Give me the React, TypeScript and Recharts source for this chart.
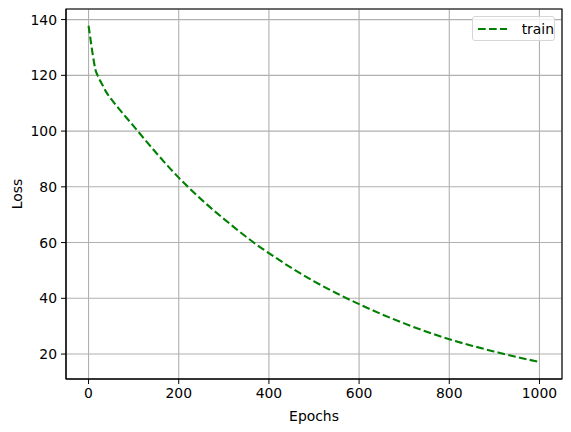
import {
  LineChart,
  Line,
  XAxis,
  YAxis,
  CartesianGrid,
  ReferenceArea,
} from 'recharts';

// Loss curve
const epochs = [
  0, 3, 6, 9, 12, 15, 20, 30, 40, 55, 70, 85, 100, 125, 150, 175, 200, 225, 250,
  275, 300, 325, 350, 375, 400, 450, 500, 550, 600, 650, 700, 750, 800, 850,
  900, 950, 1000,
];
const trainLoss = [
  137.8, 134.5, 131.0, 127.8, 124.8, 122.2, 120.0, 116.8, 113.8, 110.5, 107.5,
  104.6, 101.8, 96.9, 92.2, 87.6, 83.3, 79.3, 75.5, 71.9, 68.5, 65.2, 62.0,
  59.0, 56.2, 50.9, 46.1, 41.8, 37.9, 34.3, 31.0, 28.0, 25.3, 23.0, 20.9, 18.9,
  17.2,
];
const xTicks = [0, 200, 400, 600, 800, 1000];
const yTicks = [20, 40, 60, 80, 100, 120, 140];

const X_DOMAIN = [-50, 1050];
const Y_DOMAIN = [11.05, 143.8];

const FONT = 'DejaVu Sans, sans-serif';
const tickStyle = { fontSize: 13.9, fill: '#000', fontFamily: FONT };
const DASH = '7.7 3.3';

function TrainLegend() {
  return (
    <div
      style={{
        position: 'absolute',
        left: 472,
        top: 16,
        width: 83,
        height: 25,
        boxSizing: 'border-box',
        border: '1px solid #d6d6d6',
        borderRadius: 3,
        background: 'rgba(255,255,255,0.8)',
        display: 'flex',
        alignItems: 'center',
        fontFamily: FONT,
        fontSize: 13.9,
        color: '#000',
      }}
    >
      <svg width={44} height={10} style={{ marginLeft: 5 }}>
        <line
          x1={0}
          y1={5}
          x2={29}
          y2={5}
          stroke="#008000"
          strokeWidth={2.1}
          strokeDasharray={DASH}
        />
      </svg>
      <span>train</span>
    </div>
  );
}

export default function App() {
  const data = epochs.map((e, i) => ({ epoch: e, train: trainLoss[i] }));

  return (
    <div style={{ position: 'absolute', left: 0, top: 0, width: 571, height: 432, background: '#fff' }}>
      <LineChart
        width={571}
        height={432}
        data={data}
        margin={{ top: 9, right: 9, bottom: 0, left: 0 }}
      >
        <CartesianGrid stroke="#b0b0b0" strokeWidth={1.1} />
        <XAxis
          dataKey="epoch"
          type="number"
          domain={X_DOMAIN}
          ticks={xTicks}
          allowDataOverflow
          height={53}
          tickSize={5}
          tickMargin={4}
          tick={tickStyle}
          stroke="#000"
          label={{ value: 'Epochs', position: 'insideBottom', offset: 11, style: { ...tickStyle } }}
        />
        <YAxis
          type="number"
          domain={Y_DOMAIN}
          ticks={yTicks}
          allowDataOverflow
          width={66}
          tickSize={5}
          tickMargin={4}
          tick={tickStyle}
          stroke="#000"
          label={({ viewBox }: any) => (
            <text
              x={17}
              y={viewBox.y + viewBox.height / 2}
              transform={`rotate(-90, 17, ${viewBox.y + viewBox.height / 2})`}
              textAnchor="middle"
              dominantBaseline="central"
              style={tickStyle}
            >
              Loss
            </text>
          )}
        />
        <Line
          type="monotone"
          dataKey="train"
          stroke="#008000"
          strokeWidth={2.1}
          strokeDasharray={DASH}
          dot={false}
          isAnimationActive={false}
        />
        {/* axes frame */}
        <ReferenceArea
          x1={X_DOMAIN[0]}
          x2={X_DOMAIN[1]}
          y1={Y_DOMAIN[0]}
          y2={Y_DOMAIN[1]}
          fill="none"
          fillOpacity={0}
          stroke="#000"
          strokeWidth={1.1}
        />
      </LineChart>
      <TrainLegend />
    </div>
  );
}
